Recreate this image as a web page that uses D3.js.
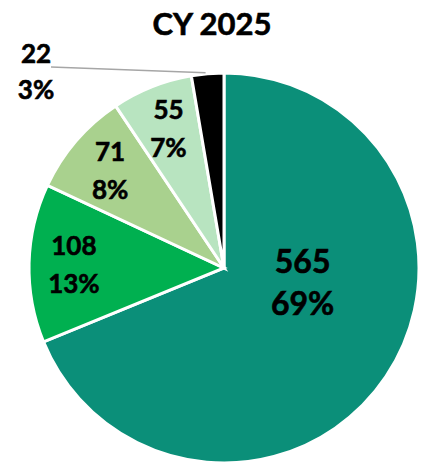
<!DOCTYPE html>
<html>
<head>
<meta charset="utf-8">
<script src="https://cdn.jsdelivr.net/npm/d3@7"></script>
<style>
  body { margin: 0; background: #fff; }
  text { font-family: Lato, "Open Sans", sans-serif; font-weight: bold; fill: #000; stroke: #000; stroke-width: 0.6px; }
</style>
</head>
<body>
<script>
// Daten
const categories = ["A", "B", "C", "D", "E"]
const values = [565, 108, 71, 55, 22]
const percents = ["69%", "13%", "8%", "7%", "3%"]
const colors = ["#0b8f79", "#00b050", "#a9d18e", "#b8e4c0", "#000000"]
const title = "CY 2025"

const width = 427
const height = 464
const cx = 224, cy = 268, radius = 195

// SVG erstellen
var svg = d3.select("body").append("svg")
    .attr("width", width)
    .attr("height", height)

svg.append("text")
    .attr("x", 212)
    .attr("y", 35)
    .attr("text-anchor", "middle")
    .style("font-size", "31px")
    .text(title)

var pie = d3.pie().sort(null).value((d) => d.value)
var data = pie(categories.map((c, i) => ({ cat: c, value: values[i], pct: percents[i], color: colors[i] })))

var arc = d3.arc().innerRadius(0).outerRadius(radius)

var g = svg.append("g").attr("transform", "translate(" + cx + "," + cy + ")")

g.selectAll("path")
    .data(data)
    .enter()
    .append("path")
        .attr("d", arc)
        .style("fill", (d) => d.data.color)
        .attr("stroke", "white")
        .attr("stroke-width", 3)

// Label Position (polar)
function polar(angle, r) {
    return [Math.sin(angle) * r, -Math.cos(angle) * r]
}

data.forEach((d, i) => {
    var mid = (d.startAngle + d.endAngle) / 2
    var big = i === 0
    var small = d.endAngle - d.startAngle < 0.2
    if (small) {
        // Leader line nach außen
        var p = polar(mid, radius)
        g.append("line")
            .attr("x1", p[0] - 2).attr("y1", p[1] - 1)
            .attr("x2", 51 - cx).attr("y2", 67 - cy)
            .attr("stroke", "#a6a6a6")
            .attr("stroke-width", 1.5)
        g.append("text").attr("x", 36 - cx).attr("y", 63 - cy)
            .attr("text-anchor", "middle").style("font-size", "26px").text(d.data.value)
        g.append("text").attr("x", 36 - cx).attr("y", 99 - cy)
            .attr("text-anchor", "middle").style("font-size", "26px").text(d.data.pct)
        return
    }
    var angle = big ? d.startAngle + (d.endAngle - d.startAngle) * 0.405 : mid
    var r = big ? radius * 0.41 : radius * 0.77
    var p = polar(angle, r)
    var fs = big ? 32 : 26
    var gap = big ? 42 : 38
    g.append("text")
        .attr("x", p[0]).attr("y", p[1] - gap / 2 + fs * 0.36)
        .attr("text-anchor", "middle").style("font-size", fs + "px")
        .text(d.data.value)
    g.append("text")
        .attr("x", p[0]).attr("y", p[1] + gap / 2 + fs * 0.36)
        .attr("text-anchor", "middle").style("font-size", fs + "px")
        .text(d.data.pct)
})
</script>
</body>
</html>
